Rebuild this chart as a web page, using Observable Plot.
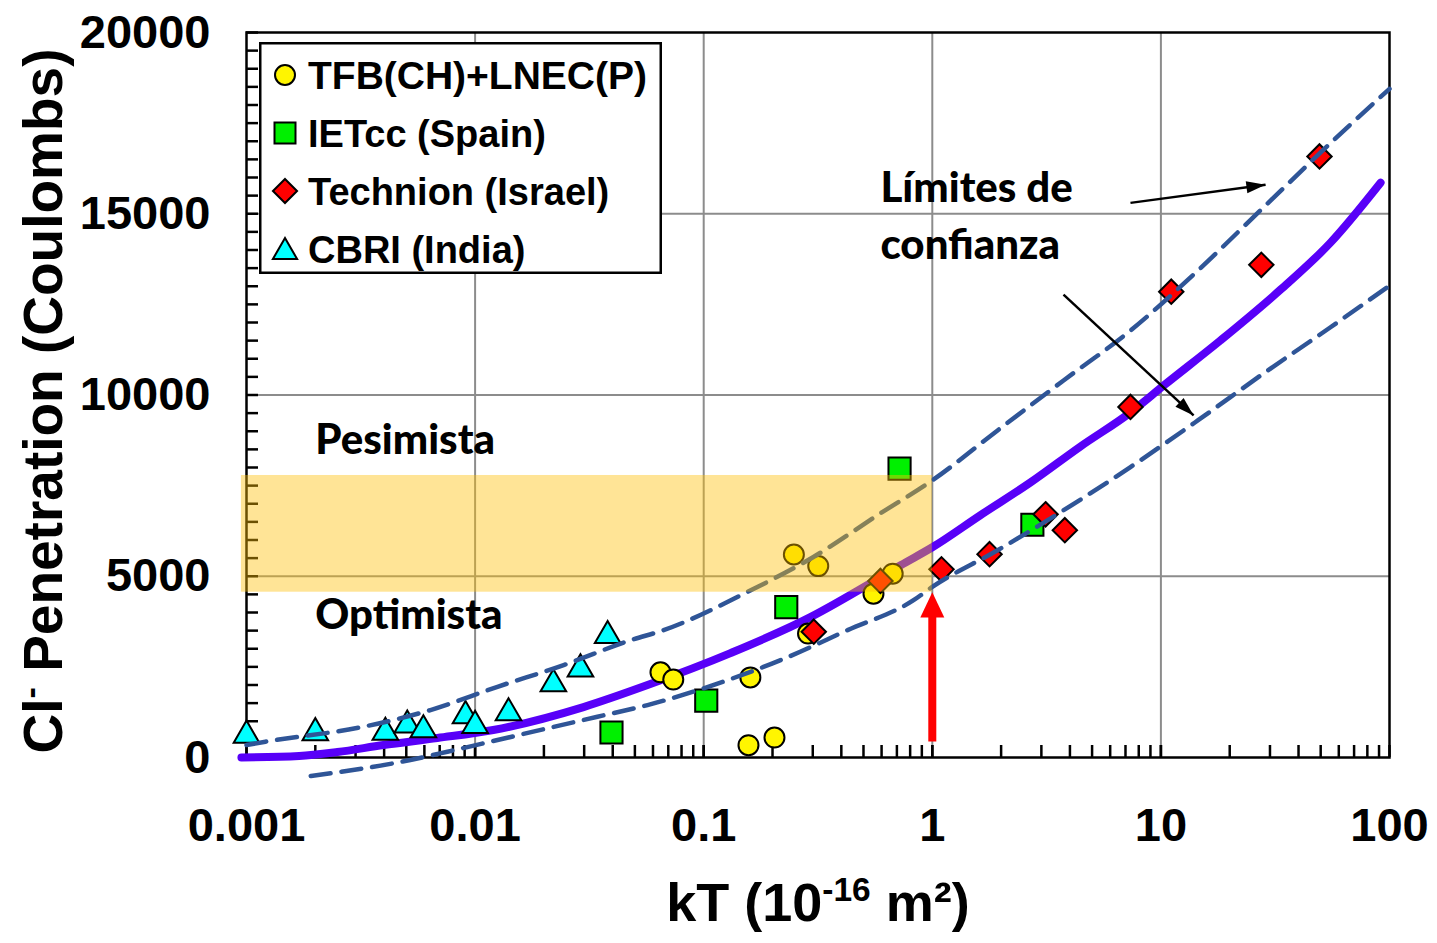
<!DOCTYPE html>
<html>
<head>
<meta charset="utf-8">
<script src="https://cdn.jsdelivr.net/npm/d3@7"></script>
<script src="https://cdn.jsdelivr.net/npm/@observablehq/plot@0.6"></script>
<style>
  html, body { margin: 0; padding: 0; background: #fff; }
  #wrap { position: relative; width: 1437px; height: 943px; overflow: hidden; }
  #legend { position: absolute; left: 259px; top: 42px; }
</style>
</head>
<body>
<div id="wrap"></div>
<script>
// ---------- DATA ----------
// x: kT (10^-16 m²), y: Cl- penetration (Coulombs)
const tfbX = [0.0647, 0.0736, 0.157, 0.204, 0.160, 0.248, 0.317, 0.286, 0.553, 0.671];
const tfbY = [2350, 2150, 340, 550, 2210, 5600, 5280, 3420, 4520, 5070];

const ietccX = [0.0395, 0.1026, 0.2297, 0.719, 2.74];
const ietccY = [690, 1570, 4150, 7970, 6420];

const technionX = [0.303, 0.593, 1.097, 1.78, 3.13, 3.80, 7.36, 11.1, 27.5, 49.4];
const technionY = [3470, 4870, 5190, 5610, 6710, 6270, 9670, 12850, 13590, 16580];

const cbriX = [0.001, 0.002, 0.00405, 0.00505, 0.00594, 0.00908, 0.0100, 0.0140, 0.0220, 0.0289, 0.0380];
const cbriY = [610, 680, 690, 890, 760, 1150, 880, 1230, 2030, 2440, 3360];

// fitted curve
const fitX = [0.00095, 0.0017, 0.0025, 0.00397, 0.00684, 0.012, 0.0298, 0.0568, 0.131, 0.293, 0.537, 0.727, 1, 1.62, 2.69, 4.45, 7.36, 10.3, 18.2, 33.4, 55.2, 91.4];
const fitY = [0, 40, 150, 344, 537, 758, 1391, 1997, 2879, 3871, 4807, 5303, 5799, 6681, 7590, 8582, 9519, 10263, 11503, 12908, 14203, 15855];

// confidence limits
const upperX = [0.001, 0.00121, 0.00325, 0.00638, 0.01253, 0.0244, 0.0479, 0.0667, 0.1555, 0.302, 0.593, 1, 1.93, 3.75, 7.36, 14.5, 28.1, 63.0, 100];
const upperY = [344, 436, 849, 1309, 1951, 2548, 3237, 3513, 4568, 5532, 6736, 7645, 9023, 10400, 11778, 13431, 15175, 17288, 18445];
const lowerX = [0.00191, 0.00521, 0.00757, 0.01253, 0.0207, 0.0343, 0.0568, 0.110, 0.217, 0.426, 0.828, 1, 1.93, 3.75, 7.36, 14.5, 28.1, 55.2, 100];
const lowerY = [-510, -69, 160, 482, 804, 1124, 1446, 1997, 2686, 3513, 4339, 4706, 5717, 6819, 8012, 9298, 10593, 11869, 13017];

// shaded band (pesimista / optimista)
const bandX = [0.00095, 1];
const bandY = [4560, 7780];

// red arrow at kT = 1
const redArrowX = [1];
const redArrowY = [430, 4560];

// black annotation arrows
const arrowX1 = [7.36, 3.75];
const arrowY1 = [15300, 12770];
const arrowX2 = [28.7, 13.9];
const arrowY2 = [15800, 9436];

// annotation texts
const annoText = ["Pesimista", "Optimista", "Límites de", "confianza"];
const annoX = [0.002, 0.002, 0.593, 0.593];
const annoY = [8747, 3926, 15690, 14120];

// axes
const xTicks = [0.001, 0.01, 0.1, 1, 10, 100];
const xTickLabels = ["0.001", "0.01", "0.1", "1", "10", "100"];
const yTicks = [0, 5000, 10000, 15000, 20000];
const yTickLabels = ["0", "5000", "10000", "15000", "20000"];
const xGrid = [0.01, 0.1, 1, 10];
const yGrid = [5000, 10000, 15000];
const xMinor = [];
for (const dec of [0.001, 0.01, 0.1, 1, 10]) for (let m = 1; m <= 10; m++) xMinor.push(+(dec * m).toPrecision(3));
const yMinor = d3.range(0, 20001, 500);

const xTitle = "kT (10-16 m²)";
const yTitle = "Cl- Penetration (Coulombs)";

// legend
const legendLabels = ["TFB(CH)+LNEC(P)", "IETcc (Spain)", "Technion (Israel)", "CBRI (India)"];
const legendFills = ["#FFF500", "#00F000", "#FF0000", "#00FFFF"];
const legendSymbols = [d3.symbolCircle, d3.symbolSquare, d3.symbolDiamond2, d3.symbolTriangle];

// ---------- CHART ----------
const headSymbol = {
  draw(ctx, size) {
    const r = Math.sqrt(size / Math.PI);
    ctx.moveTo(0, 0);
    ctx.lineTo(r, 2.1 * r);
    ctx.lineTo(-r, 2.1 * r);
    ctx.closePath();
  }
};
const slimHead = {
  draw(ctx, size) {
    const r = Math.sqrt(size / Math.PI);
    ctx.moveTo(0, 0);
    ctx.lineTo(0.5 * r, 1.6 * r);
    ctx.lineTo(-0.5 * r, 1.6 * r);
    ctx.closePath();
  }
};

const FONT = "'Liberation Sans', Arial, sans-serif";
const gridStyle = {stroke: "#8c8c8c", strokeWidth: 2, strokeOpacity: 1};

function build(headAngles) {
  const marks = [
    Plot.gridX(xGrid, gridStyle),
    Plot.gridY(yGrid, gridStyle),
    Plot.axisX(xMinor, {anchor: "bottom", tickSize: 12, dy: -12, strokeWidth: 2.5, tickFormat: () => "", label: null}),
    Plot.axisY(yMinor, {anchor: "left", tickSize: 12, dx: 12, strokeWidth: 2.5, tickFormat: () => "", label: null}),
    Plot.frame({stroke: "black", strokeWidth: 2.5}),
    Plot.line(fitY, {x: fitX, y: fitY, stroke: "#5800F8", strokeWidth: 8, curve: "monotone-x"}),
    Plot.dot(cbriY, {x: cbriX, y: cbriY, symbol: d3.symbolTriangle, r: 9.5, fill: "#00FFFF", stroke: "black", strokeWidth: 2}),
    Plot.dot(tfbY, {x: tfbX, y: tfbY, symbol: d3.symbolCircle, r: 10, fill: "#FFF500", stroke: "black", strokeWidth: 2}),
    Plot.dot(ietccY, {x: ietccX, y: ietccY, symbol: d3.symbolSquare, r: 12.5, fill: "#00F000", stroke: "black", strokeWidth: 2}),
    Plot.dot(technionY, {x: technionX, y: technionY, symbol: d3.symbolDiamond2, r: 11, fill: "#FF0000", stroke: "black", strokeWidth: 2}),
    Plot.line(upperY, {x: upperX, y: upperY, stroke: "#2F5597", strokeWidth: 4.5, strokeDasharray: "20,11", curve: "monotone-x"}),
    Plot.line(lowerY, {x: lowerX, y: lowerY, stroke: "#2F5597", strokeWidth: 4.5, strokeDasharray: "20,11", curve: "monotone-x"}),
    Plot.rect([0], {x1: [bandX[0]], x2: [bandX[1]], y1: [bandY[0]], y2: [bandY[1]], fill: "#FFBE05", fillOpacity: 0.42}),
    Plot.ruleX(redArrowX, {x: redArrowX, y1: [redArrowY[0]], y2: [redArrowY[1] - 600], stroke: "#FF0000", strokeWidth: 8}),
    Plot.dot(redArrowX, {x: redArrowX, y: [redArrowY[1]], symbol: headSymbol, r: 12, fill: "#FF0000", stroke: "none"}),
    Plot.link(arrowX1, {x1: arrowX1, y1: arrowY1, x2: arrowX2, y2: arrowY2, stroke: "black", strokeWidth: 2.5}),
    Plot.text(annoText, {x: annoX, y: annoY, text: annoText, textAnchor: "start", lineAnchor: "middle", fontFamily: "Lato, 'Open Sans', sans-serif", fontWeight: 900, fontSize: 42, fill: "black"}),
    Plot.axisX(xTicks, {anchor: "bottom", tickSize: 0, tickPadding: 50, tickFormat: d => xTickLabels[xTicks.indexOf(d)], fontSize: 47, fontWeight: "bold", fill: "black", label: null}),
    Plot.axisY(yTicks, {anchor: "left", tickSize: 0, tickPadding: 36, tickFormat: d => yTickLabels[yTicks.indexOf(d)], fontSize: 47, fontWeight: "bold", fill: "black", label: null}),
    Plot.text([xTitle], {text: d => d, frameAnchor: "bottom", dy: 146, fontSize: 54, fontWeight: "bold", fill: "black", textAnchor: "middle", lineAnchor: "middle"}),
    Plot.text([yTitle], {text: d => d, frameAnchor: "left", dx: -202, dy: 6, rotate: -90, fontSize: 55, fontWeight: "bold", fill: "black", textAnchor: "middle", lineAnchor: "middle"})
  ];
  if (headAngles) {
    marks.push(Plot.dot(arrowX2, {x: arrowX2, y: arrowY2, symbol: slimHead, r: 12, rotate: headAngles, fill: "black", stroke: "none"}));
  }
  return Plot.plot({
    width: 1437,
    height: 943,
    marginLeft: 246,
    marginRight: 48,
    marginTop: 32,
    marginBottom: 186,
    x: {type: "log", domain: [0.001, 100]},
    y: {domain: [0, 20000]},
    style: {fontFamily: FONT, background: "white", color: "black", overflow: "visible"},
    marks
  });
}

// first pass to read scales, then compute arrowhead angles in screen space
const probe = build(null);
const sx = probe.scale("x"), sy = probe.scale("y");
const headAngles = arrowX1.map((x1, i) => {
  const dx = sx.apply(arrowX2[i]) - sx.apply(x1);
  const dy = sy.apply(arrowY2[i]) - sy.apply(arrowY1[i]);
  return Math.atan2(dy, dx) * 180 / Math.PI + 90;
});
const chart = build(headAngles);

const wrap = document.getElementById("wrap");
wrap.appendChild(chart);

// superscripts in titles
const NS = "http://www.w3.org/2000/svg";
function supify(el, before, sup, after) {
  el.textContent = "";
  const t1 = document.createElementNS(NS, "tspan"); t1.textContent = before;
  const t2 = document.createElementNS(NS, "tspan"); t2.textContent = sup;
  t2.setAttribute("font-size", "0.62em"); t2.setAttribute("dy", "-0.6em");
  const t3 = document.createElementNS(NS, "tspan"); t3.textContent = after;
  t3.setAttribute("dy", "0.372em");
  el.append(t1, t2, t3);
}
chart.querySelectorAll("text").forEach(el => {
  if (el.textContent === xTitle) supify(el, "kT (10", "-16", " m²)");
  else if (el.textContent === yTitle) supify(el, "Cl", "-", " Penetration (Coulombs)");
});

// legend box
const lw = 403, lh = 232, rowH = 58;
const leg = d3.select(wrap).append("svg")
  .attr("id", "legend").attr("width", lw).attr("height", lh)
  .style("font-family", FONT);
leg.append("rect").attr("x", 1.25).attr("y", 1.25).attr("width", lw - 2.5).attr("height", lh - 2.5)
  .attr("fill", "white").attr("stroke", "black").attr("stroke-width", 2.5);
const legSizes = [Math.PI * 100, 441, Math.PI * 118, 254];
legendLabels.forEach((lab, i) => {
  const cy = 33 + i * rowH;
  leg.append("path")
    .attr("d", d3.symbol(legendSymbols[i], legSizes[i])())
    .attr("transform", `translate(26,${cy + (i === 3 ? 3 : 0)})`)
    .attr("fill", legendFills[i]).attr("stroke", "black").attr("stroke-width", 2);
  const t = leg.append("text")
    .attr("x", 49).attr("y", cy).attr("dy", "0.36em")
    .attr("font-size", 38).attr("font-weight", "bold").attr("fill", "black")
    .text(lab);
  if (i === 0) t.attr("textLength", 339).attr("lengthAdjust", "spacingAndGlyphs");
});
</script>
</body>
</html>
